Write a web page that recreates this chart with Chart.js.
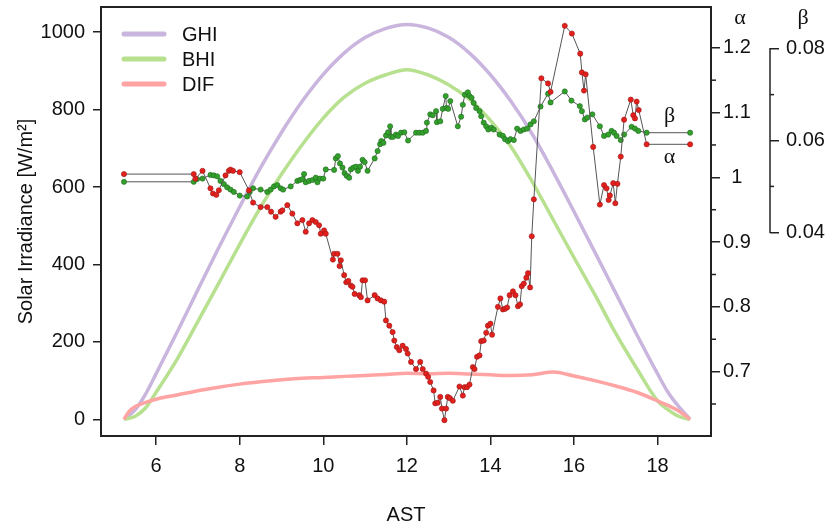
<!DOCTYPE html>
<html>
<head>
<meta charset="utf-8">
<script src="https://cdn.jsdelivr.net/npm/chart.js@4.4.1/dist/chart.umd.min.js"></script>
<style>
  html, body { margin: 0; padding: 0; background: #fff; }
</style>
</head>
<body>
<canvas id="myChart" width="831" height="527"></canvas>
<script>
// irradiance curves (W/m2) against apparent solar time
const irrHours = [5.23, 5.35, 5.5, 5.75, 6, 6.5, 7, 7.5, 8, 8.5, 9, 9.5, 10, 10.5, 11, 11.5, 12,
  12.5, 13, 13.5, 14, 14.5, 15, 15.5, 16, 16.5, 17, 17.5, 18, 18.25, 18.5, 18.78];
const ghiValues = [0, 10, 25, 66, 118, 225, 335, 444, 549, 650, 741, 822, 891, 946, 986, 1010, 1020,
  1011, 987, 946, 890, 820, 737, 640, 537, 432, 326, 220, 118, 70, 34, 0];
const bhiValues = [0, 3, 8, 30, 70, 155, 253, 352, 452, 548, 633, 710, 778, 832, 868, 890, 903,
  890, 864, 826, 772, 703, 614, 516, 418, 322, 222, 132, 48, 25, 8, 0];
const difValues = [0, 20, 33, 44, 52, 63, 74, 83, 91, 97, 102, 106, 108, 111, 113, 116, 119,
  118, 119, 117, 115, 113, 115, 122, 112, 100, 86, 70, 48, 36, 22, 0];

// alpha (red) points
const alphaHours = [5.23, 6.90, 6.94, 7.11, 7.30, 7.36, 7.44, 7.50, 7.66, 7.74, 7.78, 7.84, 8.00,
  8.22, 8.32, 8.50, 8.66, 8.75, 8.86, 8.98, 9.02, 9.14, 9.26, 9.38, 9.50, 9.58, 9.66, 9.74, 9.82,
  9.90, 9.94, 10.02, 10.06, 10.23, 10.26, 10.34, 10.39, 10.42, 10.50, 10.55, 10.60, 10.66, 10.70,
  10.75, 10.86, 10.90, 10.94, 11.00, 11.06, 11.23, 11.30, 11.38, 11.46, 11.50, 11.58, 11.66, 11.70,
  11.76, 11.82, 11.90, 11.98, 12.02, 12.10, 12.22, 12.32, 12.38, 12.46, 12.51, 12.56, 12.64, 12.68,
  12.74, 12.80, 12.84, 12.90, 12.94, 12.98, 13.03, 13.10, 13.26, 13.34, 13.38, 13.44, 13.50, 13.58,
  13.62, 13.68, 13.74, 13.78, 13.84, 13.90, 13.94, 14.00, 14.04, 14.18, 14.24, 14.30, 14.35, 14.40,
  14.46, 14.54, 14.60, 14.66, 14.71, 14.75, 14.80, 14.86, 14.90, 14.95, 14.99, 15.04, 15.22, 15.38,
  15.44, 15.78, 15.95, 16.15, 16.19, 16.24, 16.28, 16.46, 16.62, 16.72, 16.78, 16.83, 16.86, 16.94,
  16.99, 17.04, 17.12, 17.20, 17.36, 17.42, 17.46, 17.50, 17.55, 17.74, 18.78];
const alphaValues = [1.005, 1.005, 0.998, 1.010, 0.983, 0.975, 0.973, 0.980, 1.003, 1.010, 1.012, 1.010, 1.008,
  0.980, 0.961, 0.954, 0.954, 0.947, 0.939, 0.947, 0.949, 0.957, 0.944, 0.929, 0.934, 0.916, 0.929, 0.934, 0.931,
  0.926, 0.913, 0.918, 0.913, 0.873, 0.882, 0.882, 0.863, 0.872, 0.849, 0.838, 0.840, 0.833, 0.831,
  0.820, 0.818, 0.815, 0.841, 0.841, 0.810, 0.818, 0.813, 0.810, 0.808, 0.779, 0.771, 0.761, 0.748,
  0.738, 0.733, 0.740, 0.735, 0.728, 0.715, 0.704, 0.715, 0.704, 0.697, 0.692, 0.684, 0.671, 0.651,
  0.652, 0.661, 0.643, 0.625, 0.643, 0.661, 0.659, 0.655, 0.677, 0.663, 0.676, 0.676, 0.680, 0.707,
  0.704, 0.723, 0.725, 0.747, 0.748, 0.760, 0.771, 0.774, 0.757, 0.800, 0.813, 0.796, 0.797, 0.799,
  0.818, 0.824, 0.818, 0.801, 0.804, 0.832, 0.836, 0.845, 0.852, 0.830, 0.909, 0.966, 1.153, 1.145,
  1.132, 1.234, 1.222, 1.191, 1.162, 1.134, 1.159, 1.047, 0.958, 0.988, 0.983, 0.965, 0.972, 0.991,
  0.960, 0.990, 1.032, 1.089, 1.120, 1.096, 1.091, 1.117, 1.104, 1.051, 1.051];

// beta (green) points
const betaHours = [5.23, 6.90, 6.98, 7.11, 7.30, 7.38, 7.46, 7.54, 7.62, 7.70, 7.78, 7.86, 8.00,
  8.18, 8.24, 8.32, 8.50, 8.66, 8.74, 8.82, 8.90, 8.98, 9.04, 9.22, 9.38, 9.44, 9.50, 9.54, 9.58,
  9.66, 9.74, 9.82, 9.86, 9.92, 10.00, 10.06, 10.26, 10.30, 10.35, 10.40, 10.46, 10.51, 10.56, 10.62,
  10.66, 10.72, 10.78, 10.83, 10.88, 10.94, 10.99, 11.06, 11.23, 11.30, 11.36, 11.39, 11.44, 11.50,
  11.55, 11.60, 11.62, 11.67, 11.74, 11.79, 11.86, 11.94, 12.03, 12.22, 12.30, 12.38, 12.46, 12.48,
  12.56, 12.62, 12.70, 12.72, 12.80, 12.86, 12.93, 12.95, 12.99, 13.04, 13.22, 13.30, 13.34, 13.39,
  13.46, 13.50, 13.55, 13.60, 13.66, 13.74, 13.78, 13.84, 13.90, 13.95, 14.02, 14.08, 14.22, 14.30,
  14.35, 14.42, 14.48, 14.56, 14.64, 14.72, 14.80, 14.88, 14.96, 15.04, 15.20, 15.38, 15.44, 15.78,
  15.94, 16.14, 16.19, 16.26, 16.32, 16.44, 16.62, 16.72, 16.82, 16.90, 16.96, 17.02, 17.12, 17.20,
  17.38, 17.46, 17.54, 17.74, 18.78];
const betaValues = [0.0510, 0.0510, 0.0516, 0.0517, 0.0525, 0.0524, 0.0522, 0.0512, 0.0505, 0.0498, 0.0493, 0.0488, 0.0480,
  0.0478, 0.0488, 0.0496, 0.0493, 0.0488, 0.0493, 0.0500, 0.0503, 0.0496, 0.0493, 0.0500, 0.0512, 0.0514, 0.0516, 0.0527, 0.0509,
  0.0512, 0.0514, 0.0519, 0.0509, 0.0517, 0.0517, 0.0537, 0.0536, 0.0561, 0.0566, 0.0550, 0.0541, 0.0529, 0.0523, 0.0519,
  0.0537, 0.0541, 0.0543, 0.0534, 0.0543, 0.0558, 0.0553, 0.0534, 0.0561, 0.0577, 0.0592, 0.0599, 0.0595, 0.0611,
  0.0618, 0.0631, 0.0608, 0.0608, 0.0613, 0.0610, 0.0617, 0.0618, 0.0600, 0.0617, 0.0617, 0.0617, 0.0621, 0.0639,
  0.0657, 0.0655, 0.0664, 0.0640, 0.0642, 0.0669, 0.0697, 0.0671, 0.0669, 0.0686, 0.0631, 0.0652, 0.0678, 0.0700,
  0.0705, 0.0697, 0.0693, 0.0682, 0.0671, 0.0664, 0.0653, 0.0639, 0.0631, 0.0624, 0.0628, 0.0624, 0.0613, 0.0610,
  0.0603, 0.0599, 0.0603, 0.0601, 0.0626, 0.0621, 0.0624, 0.0626, 0.0635, 0.0642, 0.0674, 0.0702, 0.0683, 0.0707,
  0.0687, 0.0675, 0.0664, 0.0646, 0.0650, 0.0657, 0.0631, 0.0610, 0.0613, 0.0621, 0.0617, 0.0610, 0.0601, 0.0613,
  0.0630, 0.0626, 0.0621, 0.0617, 0.0617];

const hourTicks = [6, 8, 10, 12, 14, 16, 18];
const irrTicks = [0, 200, 400, 600, 800, 1000];
const alphaTicks = [0.7, 0.8, 0.9, 1, 1.1, 1.2];
const alphaMinor = [0.65, 0.75, 0.85, 0.95, 1.05, 1.15];
const betaTicks = [0.04, 0.06, 0.08];
const betaMinor = [0.05, 0.07];

const FONT = { family: "'Liberation Sans', Arial, sans-serif", size: 20 };
const GREEK = "22px 'Liberation Serif', 'DejaVu Serif', serif";
const INK = '#111';

function pts(xs, ys) {
  return xs.map(function (x, i) { return { x: x, y: ys[i] }; });
}
function fixTicks(list) {
  return function (scale) { scale.ticks = list.map(function (v) { return { value: v }; }); };
}
function fixSize(w, h) {
  return function (scale) {
    if (w != null) scale.width = w;
    if (h != null) scale.height = h;
    scale.paddingTop = 0; scale.paddingBottom = 0;
    scale.paddingLeft = 0; scale.paddingRight = 0;
  };
}
function axisGrid(len) {
  return { drawOnChartArea: false, tickLength: len, color: '#222', lineWidth: 1.5 };
}

var decor = {
  id: 'decor',
  afterDraw: function (chart) {
    var ctx = chart.ctx, a = chart.chartArea, s = chart.scales;
    ctx.save();
    ctx.strokeStyle = '#222';
    ctx.lineWidth = 2;
    ctx.strokeRect(a.left, a.top, a.right - a.left, a.bottom - a.top);

    function seg(x1, y1, x2, y2) {
      ctx.beginPath(); ctx.moveTo(x1, y1); ctx.lineTo(x2, y2); ctx.stroke();
    }
    ctx.lineWidth = 1.5;
    alphaMinor.forEach(function (v) {
      var y = s.alpha.getPixelForValue(v);
      seg(a.right, y, a.right + 5, y);
    });
    var bx = s.beta.left;
    seg(bx, s.beta.getPixelForValue(0.04) + 0.75, bx, s.beta.getPixelForValue(0.08) - 0.75);
    betaMinor.forEach(function (v) {
      var y = s.beta.getPixelForValue(v);
      seg(bx, y, bx + 4, y);
    });

    // greek axis titles and end-of-line labels
    ctx.fillStyle = INK;
    ctx.font = GREEK;
    ctx.textAlign = 'center';
    ctx.textBaseline = 'middle';
    ctx.fillText('α', s.alpha.left + 29, a.top + 11);
    ctx.fillText('β', s.beta.left + 33, a.top + 11);
    ctx.fillText('β', s.x.getPixelForValue(18.29), s.beta.getPixelForValue(0.0652));
    ctx.fillText('α', s.x.getPixelForValue(18.29), s.alpha.getPixelForValue(1.031));

    // legend inside the plot
    ctx.font = FONT.size + 'px ' + FONT.family;
    ctx.textAlign = 'left';
    ctx.lineCap = 'round';
    ['GHI', 'BHI', 'DIF'].forEach(function (name, i) {
      var ds = chart.data.datasets.find(function (d) { return d.label === name; });
      var y = a.top + 27 + i * 25;
      ctx.strokeStyle = ds.borderColor;
      ctx.lineWidth = 5;
      seg(a.left + 23, y, a.left + 63, y);
      ctx.fillText(name, a.left + 81, y + 1);
    });
    ctx.restore();
  }
};

new Chart(document.getElementById('myChart'), {
  type: 'line',
  data: {
    datasets: [
      {
        label: 'α', data: pts(alphaHours, alphaValues), yAxisID: 'alpha',
        borderColor: '#555', borderWidth: 1, tension: 0,
        pointRadius: 2.6, pointBackgroundColor: '#e3201c', pointBorderColor: '#9a1a1a', pointBorderWidth: 0.6
      },
      {
        label: 'β', data: pts(betaHours, betaValues), yAxisID: 'beta',
        borderColor: '#555', borderWidth: 1, tension: 0,
        pointRadius: 2.6, pointBackgroundColor: '#34a02c', pointBorderColor: '#1f6a1f', pointBorderWidth: 0.6
      },
      {
        label: 'DIF', data: pts(irrHours, difValues), yAxisID: 'y',
        borderColor: '#ffa3a3', borderWidth: 3.5, pointRadius: 0, cubicInterpolationMode: 'monotone'
      },
      {
        label: 'BHI', data: pts(irrHours, bhiValues), yAxisID: 'y',
        borderColor: '#b7e08f', borderWidth: 3.5, pointRadius: 0, cubicInterpolationMode: 'monotone'
      },
      {
        label: 'GHI', data: pts(irrHours, ghiValues), yAxisID: 'y',
        borderColor: '#c9b5dd', borderWidth: 3.5, pointRadius: 0, cubicInterpolationMode: 'monotone'
      }
    ]
  },
  options: {
    responsive: false,
    animation: false,
    layout: { padding: { top: 7, left: 0, right: 0, bottom: 0 } },
    plugins: { legend: { display: false }, tooltip: { enabled: false } },
    scales: {
      x: {
        type: 'linear', position: 'bottom', min: 4.68, max: 19.28,
        afterBuildTicks: fixTicks(hourTicks), afterFit: fixSize(null, 91),
        grid: axisGrid(9), border: { display: false },
        ticks: { font: FONT, color: INK, padding: 9, maxRotation: 0, autoSkip: false,
          callback: function (v) { return String(v); } },
        title: { display: true, text: 'AST', font: FONT, color: INK, padding: { top: 0, bottom: 0 } }
      },
      y: {
        type: 'linear', position: 'left', min: -43, max: 1065,
        afterBuildTicks: fixTicks(irrTicks), afterFit: fixSize(101, null),
        grid: axisGrid(8), border: { display: false },
        ticks: { font: FONT, color: INK, padding: 8, callback: function (v) { return String(v); } },
        title: { display: true, text: 'Solar Irradiance [W/m²]', font: FONT, color: INK, padding: { top: 14, bottom: 0 } }
      },
      alpha: {
        type: 'linear', position: 'right', min: 0.6006, max: 1.263,
        afterBuildTicks: fixTicks(alphaTicks), afterFit: fixSize(59, null),
        grid: axisGrid(9), border: { display: false },
        ticks: { font: FONT, color: INK, padding: 3, crossAlign: 'center',
          callback: function (v) { return String(+v.toFixed(2)); } }
      },
      beta: {
        type: 'linear', position: 'right', min: -0.0044, max: 0.0891,
        afterBuildTicks: fixTicks(betaTicks), afterFit: fixSize(61, null),
        grid: axisGrid(9), border: { display: false },
        ticks: { font: FONT, color: INK, padding: 7,
          callback: function (v) { return String(+v.toFixed(2)); } }
      }
    }
  },
  plugins: [decor]
});
</script>
</body>
</html>
